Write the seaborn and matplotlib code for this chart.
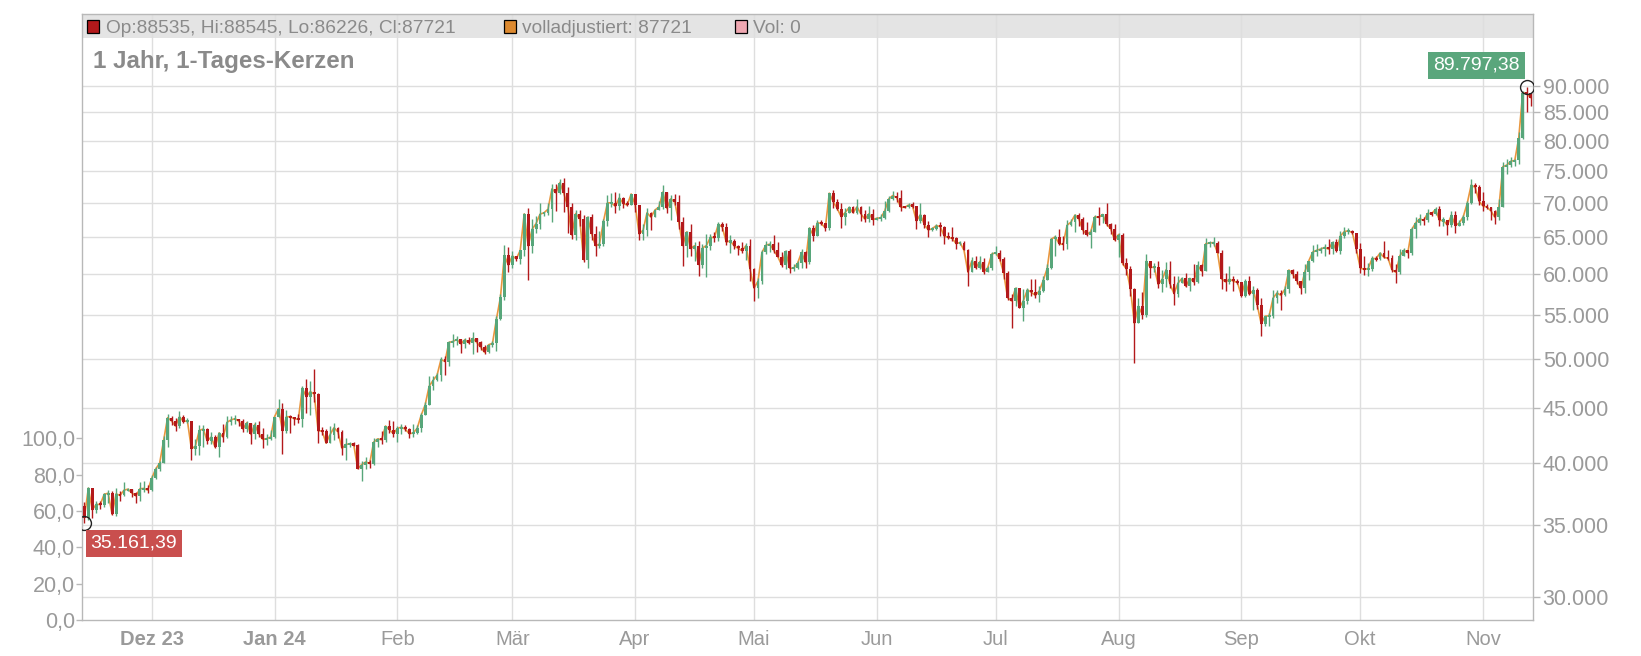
import numpy as np
import pandas as pd
import matplotlib
matplotlib.use("Agg")
import matplotlib.pyplot as plt
import matplotlib.dates as mdates
from matplotlib.patches import Rectangle
from matplotlib.ticker import NullLocator
import seaborn as sns

# ---------------- data (prices in thousand USD) ----------------
start_date = "2023-11-14"
first_open_k = 36.49

close_k = [
    # Nov 23 (14-30)
    35.55, 37.88, 36.16, 36.59, 36.57, 37.39, 37.47, 35.81, 37.42, 37.29, 37.72, 37.80, 37.48, 37.25, 37.83, 37.86, 37.72,
    # Dec 23
    38.69, 39.48, 39.98, 41.98, 44.08, 43.77, 43.29, 44.17, 43.72, 43.79, 41.24, 41.45, 42.89, 43.02, 41.94, 42.28,
    41.37, 42.66, 42.27, 43.65, 43.87, 43.99, 43.74, 43.02, 43.61, 42.52, 43.44, 42.58, 42.07, 42.14, 42.28,
    # Jan 24
    44.18, 44.94, 42.85, 44.18, 44.16, 43.97, 43.93, 46.97, 46.11, 46.63, 46.37, 42.85, 42.84, 41.73, 42.51, 43.15,
    42.74, 41.26, 41.62, 41.67, 41.55, 39.51, 39.85, 40.08, 39.94, 41.82, 42.12, 42.03, 43.30, 42.94, 42.58,
    # Feb 24
    43.08, 43.19, 43.00, 42.58, 42.66, 43.09, 44.32, 45.30, 47.15, 47.77, 48.29, 49.96, 49.74, 51.83, 51.94, 52.16,
    51.66, 52.12, 51.78, 52.28, 51.84, 51.30, 50.73, 51.57, 51.73, 54.52, 57.09, 62.50, 61.20,
    # Mar 24
    62.44, 62.03, 63.17, 68.33, 63.80, 66.11, 66.93, 68.30, 68.50, 69.02, 72.12, 71.48, 73.10, 71.40, 69.40, 65.30,
    68.39, 67.61, 61.93, 67.85, 65.50, 63.80, 64.04, 67.23, 69.96, 69.99, 69.46, 70.74, 69.87, 69.65, 71.33,
    # Apr 24
    69.70, 65.45, 65.98, 68.50, 67.84, 68.90, 69.36, 71.62, 69.14, 70.59, 70.06, 67.20, 63.82, 65.74, 63.42, 63.81,
    61.28, 63.51, 63.84, 64.99, 64.93, 66.84, 66.41, 64.29, 64.50, 63.77, 63.46, 63.12, 63.84, 60.64,
    # May 24
    58.25, 59.12, 62.89, 63.89, 64.03, 63.16, 62.33, 61.19, 63.05, 60.79, 60.80, 61.45, 62.90, 61.55, 66.27, 65.23,
    67.05, 66.94, 66.28, 71.45, 70.14, 69.12, 67.93, 68.53, 69.28, 68.51, 69.39, 68.30, 67.56, 68.35, 67.49,
    # Jun 24
    67.71, 67.75, 68.80, 70.56, 71.08, 70.76, 69.34, 69.30, 69.65, 69.51, 67.31, 68.24, 66.75, 66.01, 66.19, 66.64,
    66.49, 65.14, 64.96, 64.83, 64.10, 64.25, 63.18, 60.28, 61.80, 60.86, 61.67, 60.32, 60.89, 62.68,
    # Jul 24
    62.85, 62.03, 60.20, 57.06, 56.66, 58.23, 55.86, 56.71, 58.05, 57.72, 57.34, 57.90, 59.23, 60.80, 64.72, 65.04,
    64.09, 63.99, 66.68, 67.14, 68.17, 67.56, 65.95, 65.37, 65.78, 67.91, 67.81, 68.26, 66.82, 66.19, 64.62,
    # Aug 24
    65.36, 61.42, 60.68, 58.12, 53.99, 56.03, 55.03, 61.71, 60.88, 60.95, 58.72, 59.34, 60.60, 58.74, 57.56, 58.88,
    59.48, 58.48, 59.49, 59.01, 61.16, 60.38, 64.09, 64.18, 64.25, 62.83, 59.42, 59.03, 59.38, 59.12, 58.97,
    # Sep 24
    57.33, 59.11, 57.48, 57.97, 56.16, 53.95, 54.84, 54.88, 57.02, 57.65, 57.34, 58.13, 60.57, 60.01, 59.18, 58.21,
    60.31, 61.76, 62.95, 63.19, 63.35, 63.58, 63.34, 64.26, 63.14, 65.18, 65.79, 65.89, 65.63, 63.33,
    # Oct 24
    60.84, 60.63, 60.75, 62.09, 62.06, 62.82, 62.22, 62.13, 60.58, 60.27, 62.45, 63.19, 62.85, 66.08, 67.04, 67.62,
    67.37, 68.41, 68.36, 69.00, 67.37, 67.37, 66.68, 68.16, 66.64, 67.01, 67.93, 69.91, 72.72, 72.34, 70.22,
    # Nov 24 (1-13)
    69.48, 69.35, 68.74, 67.81, 69.36, 75.64, 75.90, 76.54, 76.65, 80.47, 88.70, 88.535, 87.721,
]

high_k = [
    36.75, 37.98, 37.93, 36.85, 36.85, 37.52, 37.76, 37.65, 37.86, 37.62, 38.42, 37.89, 37.82, 37.58, 38.39, 38.43, 38.16,
    38.95, 39.68, 40.19, 42.41, 44.41, 44.26, 44.03, 44.70, 44.36, 44.04, 43.80, 42.08, 43.43, 43.41, 43.09, 42.70,
    42.43, 42.75, 43.47, 44.28, 44.24, 44.37, 44.00, 43.94, 43.80, 43.60, 43.68, 43.79, 43.12, 42.60, 42.89,
    44.19, 45.89, 45.50, 44.77, 44.34, 44.19, 44.48, 47.20, 47.89, 47.65, 48.97, 46.50, 43.24, 43.05, 43.34, 43.55,
    43.18, 42.93, 42.18, 41.83, 41.83, 41.66, 40.14, 40.53, 40.27, 42.21, 42.20, 42.84, 43.31, 43.88, 43.74,
    43.29, 43.49, 43.38, 43.12, 43.50, 43.38, 44.53, 45.60, 48.17, 48.17, 48.58, 50.28, 50.37, 52.04, 52.82, 52.57,
    52.16, 52.37, 52.49, 52.99, 52.37, 52.00, 51.50, 51.68, 51.94, 54.91, 57.56, 63.91, 63.68,
    63.10, 62.46, 63.23, 68.47, 69.17, 67.64, 67.97, 69.90, 68.67, 70.01, 72.85, 72.93, 73.65, 73.78, 72.38, 70.00,
    68.88, 68.93, 68.11, 68.03, 68.25, 66.62, 65.90, 67.56, 71.15, 71.53, 71.66, 71.49, 70.89, 70.33, 71.35,
    71.22, 69.67, 66.87, 69.26, 68.67, 69.00, 70.23, 72.71, 71.69, 71.13, 71.26, 71.17, 67.86, 65.82, 66.84, 64.32,
    64.46, 64.07, 65.45, 65.40, 65.67, 67.18, 67.18, 67.04, 65.27, 64.77, 63.89, 64.33, 64.21, 64.69,
    60.82, 59.55, 63.27, 64.46, 64.51, 65.30, 64.39, 62.98, 63.24, 63.38, 61.41, 61.78, 63.39, 63.09, 66.40, 66.70,
    67.39, 67.43, 67.00, 71.52, 71.89, 70.62, 70.02, 69.20, 69.48, 69.51, 70.61, 69.52, 68.85, 69.48, 69.00,
    67.84, 68.39, 70.24, 71.06, 71.74, 71.59, 71.95, 69.53, 69.99, 70.11, 69.55, 69.95, 68.38, 67.23, 66.43, 66.92,
    67.16, 66.52, 65.70, 66.47, 65.03, 64.52, 64.50, 63.36, 62.29, 62.45, 62.36, 62.17, 61.12, 62.89,
    63.82, 63.26, 62.26, 60.47, 57.48, 58.45, 58.32, 58.17, 58.25, 59.43, 59.42, 58.52, 59.84, 61.37, 64.88, 65.34,
    66.08, 65.12, 67.38, 67.57, 68.35, 68.48, 67.81, 67.10, 66.13, 68.22, 69.40, 68.31, 70.00, 66.99, 66.80,
    65.63, 65.59, 62.15, 61.12, 58.29, 57.03, 57.73, 62.75, 61.74, 61.45, 61.76, 60.62, 61.59, 61.75, 59.82, 59.82,
    59.68, 60.23, 59.59, 61.40, 61.78, 61.38, 64.86, 64.48, 64.96, 64.44, 63.20, 60.23, 61.15, 59.82, 59.45,
    59.05, 59.40, 59.80, 58.50, 58.30, 56.98, 54.85, 55.26, 58.04, 58.03, 57.97, 58.53, 60.61, 60.65, 60.39, 59.19,
    61.29, 61.79, 63.85, 64.09, 63.58, 64.00, 64.72, 64.47, 64.80, 65.82, 66.48, 66.26, 65.95, 65.60,
    64.13, 62.37, 61.47, 62.46, 62.37, 63.00, 64.46, 63.16, 62.53, 61.30, 63.39, 63.45, 63.27, 66.50, 67.88, 68.39,
    67.89, 68.99, 68.67, 69.36, 69.52, 67.82, 67.44, 68.83, 68.75, 67.43, 68.21, 70.23, 73.62, 72.96, 72.69,
    71.56, 69.87, 69.37, 68.91, 70.57, 76.40, 76.94, 77.25, 76.95, 81.44, 89.00, 89.79738, 88.545,
]

low_k = [
    35.16139, 35.36, 35.52, 35.92, 36.22, 36.38, 36.71, 35.77, 35.67, 36.86, 37.25, 37.62, 37.17, 36.73, 36.88, 37.60, 37.52,
    37.63, 38.66, 39.30, 39.97, 41.41, 43.35, 42.88, 43.08, 43.58, 43.59, 40.23, 40.68, 40.66, 41.43, 41.67, 41.70,
    41.27, 40.53, 41.82, 42.21, 43.42, 43.45, 43.30, 42.79, 42.74, 41.65, 42.11, 42.32, 41.30, 41.55, 41.98,
    42.19, 44.18, 40.75, 42.64, 42.63, 43.41, 43.58, 43.21, 44.50, 44.33, 45.62, 41.75, 42.44, 41.72, 41.72, 42.05,
    42.20, 40.68, 40.28, 41.43, 41.44, 39.44, 38.51, 39.47, 39.54, 39.83, 41.39, 41.64, 41.81, 42.68, 42.31,
    41.88, 42.58, 42.88, 42.21, 42.27, 42.59, 42.79, 44.33, 45.26, 46.80, 47.73, 47.71, 48.35, 49.27, 51.32, 51.56,
    50.67, 51.19, 51.68, 50.58, 50.80, 50.95, 50.54, 50.61, 51.30, 50.90, 54.44, 56.72, 60.36,
    60.79, 61.72, 61.33, 62.37, 59.32, 62.85, 65.61, 66.17, 68.03, 68.21, 67.20, 68.79, 71.35, 68.63, 65.63, 64.76,
    64.59, 66.63, 61.56, 60.85, 64.57, 62.35, 63.44, 63.80, 66.60, 69.37, 68.45, 68.87, 69.21, 69.46, 69.60,
    68.66, 64.58, 64.54, 65.13, 65.97, 67.83, 68.91, 69.05, 68.47, 67.47, 69.60, 66.12, 61.04, 62.27, 62.35, 61.80,
    59.77, 60.80, 59.62, 63.16, 64.27, 64.52, 65.82, 63.96, 62.83, 63.37, 62.50, 62.82, 61.84, 59.17,
    56.60, 56.99, 58.82, 62.62, 62.91, 62.88, 62.31, 60.93, 60.74, 60.20, 60.49, 60.63, 60.84, 60.78, 61.35, 64.49,
    65.13, 66.65, 65.91, 66.05, 69.20, 68.90, 66.36, 66.74, 68.55, 68.42, 68.28, 67.30, 67.15, 67.21, 66.70,
    67.40, 67.34, 67.59, 68.60, 70.39, 70.14, 68.82, 69.22, 69.23, 69.27, 66.10, 66.94, 66.31, 65.08, 65.86, 66.02,
    65.13, 64.10, 64.74, 64.53, 63.40, 63.95, 63.18, 58.47, 60.27, 60.71, 60.66, 60.06, 60.30, 60.60,
    62.49, 61.81, 59.45, 56.79, 53.49, 56.02, 55.79, 54.32, 56.33, 57.21, 57.07, 56.57, 57.82, 59.23, 60.69, 62.45,
    63.95, 63.26, 63.32, 66.64, 65.76, 66.58, 65.48, 65.13, 63.47, 65.72, 66.71, 67.08, 66.51, 65.39, 64.53,
    62.30, 61.21, 59.89, 57.28, 49.58, 54.04, 54.56, 54.73, 59.56, 60.26, 58.32, 57.72, 58.45, 58.32, 56.16, 57.11,
    58.84, 58.44, 57.87, 58.58, 58.89, 59.82, 60.38, 63.60, 63.79, 62.80, 58.11, 57.86, 58.79, 57.86, 58.76,
    57.13, 57.13, 57.42, 55.61, 55.69, 52.55, 53.74, 53.64, 54.59, 56.40, 55.55, 57.31, 57.63, 59.55, 58.72, 57.49,
    57.64, 59.24, 61.61, 62.37, 62.76, 62.38, 62.71, 62.69, 62.97, 62.68, 64.83, 65.43, 65.40, 62.85,
    60.20, 59.93, 59.85, 60.49, 61.70, 61.93, 62.12, 61.86, 60.34, 58.92, 60.10, 62.43, 62.10, 62.51, 64.82, 66.73,
    66.68, 67.17, 68.09, 68.11, 66.62, 66.59, 65.26, 66.45, 65.52, 66.52, 66.79, 67.50, 69.73, 71.44, 69.68,
    68.82, 69.05, 67.49, 66.83, 67.46, 69.32, 74.45, 75.62, 75.78, 76.11, 80.25, 85.10, 86.226,
]

month_ticks = ["2023-12-01", "2024-01-01", "2024-02-01", "2024-03-01", "2024-04-01", "2024-05-01",
               "2024-06-01", "2024-07-01", "2024-08-01", "2024-09-01", "2024-10-01", "2024-11-01"]
month_labels = ["Dez 23", "Jan 24", "Feb", "Mär", "Apr", "Mai", "Jun", "Jul", "Aug", "Sep", "Okt", "Nov"]
bold_labels = ["Dez 23", "Jan 24"]
price_ticks = [30000, 35000, 40000, 45000, 50000, 55000, 60000, 65000, 70000, 75000, 80000, 85000, 90000]
vol_ticks = [0, 20, 40, 60, 80, 100]
header_ohlc = "Op:88535, Hi:88545, Lo:86226, Cl:87721"
header_adj = "volladjustiert: 87721"
header_vol = "Vol: 0"
chart_title = "1 Jahr, 1-Tages-Kerzen"

# ---------------- style ----------------
sns.set_style("white")
plt.rcParams["font.family"] = ["Liberation Sans", "DejaVu Sans"]

UP = "#57a67a"
DOWN = "#b3191b"
LINE = "#e8963e"
GRID = "#dedede"
SPINE = "#b8b8b8"
TXT = "#9a9a9a"
HDR = "#8a8a8a"


def de(v, d):
    s = f"{v:,.{d}f}"
    return s.replace(",", "X").replace(".", ",").replace("X", ".")


W, H = 1641, 656
fig = plt.figure(figsize=(W / 100, H / 100), dpi=100)
L, R, T, B = 82, 1533, 14, 620
ax = fig.add_axes([L / W, 1 - B / H, (R - L) / W, (B - T) / H])
vax = ax.twinx()

n = len(close_k)
assert len(high_k) == n and len(low_k) == n, (n, len(high_k), len(low_k))
dates = pd.date_range(start_date, periods=n, freq="D")
x = mdates.date2num(dates)
close = np.array(close_k) * 1000
high = np.array(high_k) * 1000
low = np.array(low_k) * 1000
opn = np.concatenate([[first_open_k * 1000], close[:-1]])
high = np.maximum(high, np.maximum(opn, close))
low = np.minimum(low, np.minimum(opn, close))
up = close >= opn
cols = np.where(up, UP, DOWN)

# bodies with a minimal visible height (log space)
lo_b = np.minimum(opn, close)
hi_b = np.maximum(opn, close)
gm = np.sqrt(lo_b * hi_b)
thin = np.log(hi_b / lo_b) < 0.0045
lo_b = np.where(thin, gm * np.exp(-0.00225), lo_b)
hi_b = np.where(thin, gm * np.exp(0.00225), hi_b)

ax.set_yscale("log")
sns.lineplot(x=x, y=close, ax=ax, color=LINE, lw=1.2, zorder=2, legend=False)
ax.vlines(x, low, high, colors=cols, lw=1.0, zorder=3)
ax.bar(x, hi_b - lo_b, bottom=lo_b, width=0.72, color=cols, lw=0, zorder=4)

ymin = 30000 * np.exp(-(620 - 596.6) / 464.9)
ymax = 30000 * np.exp((596.6 - 14) / 464.9)
ax.set_ylim(ymin, ymax)
ax.set_xlim(x[0] - 0.6, x[-1] + 0.6)

# price axis on the right
ax.yaxis.tick_right()
ax.yaxis.set_label_position("right")
ax.set_yticks(price_ticks)
ax.set_yticklabels([de(v, 0) for v in price_ticks])
ax.yaxis.set_minor_locator(NullLocator())
ax.tick_params(axis="y", which="major", direction="out", length=5, width=1, color=SPINE,
               labelsize=15.5, labelcolor=TXT, pad=2, left=False, right=True)

# x axis
ax.set_xticks(mdates.date2num(pd.to_datetime(month_ticks)))
ax.set_xticklabels(month_labels)
ax.xaxis.set_minor_locator(NullLocator())
ax.tick_params(axis="x", direction="out", length=5, width=1, color=SPINE,
               labelsize=14.5, labelcolor=TXT, pad=2)
for lab in ax.get_xticklabels():
    if lab.get_text() in bold_labels:
        lab.set_fontweight("bold")
ax.set_xlabel("")
ax.set_ylabel("")

ax.grid(True, color=GRID, lw=1)
ax.set_axisbelow(True)
for s in ax.spines.values():
    s.set_visible(True)
    s.set_color(SPINE)
    s.set_linewidth(1)

# header band inside plot
band_frac = (B - 37.7) / (B - T)
ax.add_patch(Rectangle((0, band_frac), 1, 1 - band_frac, transform=ax.transAxes,
                       fc="#e4e4e4", ec="none", zorder=0.3))

# volume axis on the left
vax.set_ylim(0, (B - T) / 1.817)
vax.yaxis.tick_left()
vax.yaxis.set_label_position("left")
vax.set_yticks(vol_ticks)
vax.set_yticklabels([de(v, 1) for v in vol_ticks])
vax.yaxis.set_minor_locator(NullLocator())
vax.tick_params(axis="y", direction="out", length=4, width=1, color=SPINE,
                labelsize=15.5, labelcolor=TXT, pad=1, left=True, right=False)
vax.grid(False)
for s in vax.spines.values():
    s.set_visible(False)

# extreme markers and labels
imax = int(np.argmax(high))
imin = int(np.argmin(low))
ax.plot([x[imax]], [high[imax]], "o", mfc="none", mec="#222222", ms=10, mew=1, zorder=7)
ax.plot([x[imin]], [low[imin]], "o", mfc="none", mec="#222222", ms=10, mew=1, zorder=7)
ax.annotate(de(high[imax], 2), xy=(x[imax], high[imax]), xytext=(-7, 13),
            textcoords="offset pixels", ha="right", va="bottom", fontsize=14, color="white",
            bbox=dict(boxstyle="square,pad=0.25", fc="#5aa67c", ec="none"), zorder=8,
            annotation_clip=False)
ax.annotate(de(low[imin], 2), xy=(x[imin], low[imin]), xytext=(6, -12),
            textcoords="offset pixels", ha="left", va="top", fontsize=14, color="white",
            bbox=dict(boxstyle="square,pad=0.25", fc="#c94f4e", ec="none"), zorder=8,
            annotation_clip=False)

# header legend
def fx(px):
    return px / W


def fy(py):
    return 1 - py / H


for (sx, fc) in [(87, "#b3191b"), (504, "#dd8a30"), (735, "#f0a8b2")]:
    fig.add_artist(Rectangle((fx(sx), fy(33)), 12 / W, 13 / H, transform=fig.transFigure,
                             fc=fc, ec="black", lw=0.9, zorder=5))
fig.text(fx(106), fy(28.5), header_ohlc, fontsize=13.8, color=HDR, ha="left", va="center")
fig.text(fx(522), fy(28.5), header_adj, fontsize=13.8, color=HDR, ha="left", va="center")
fig.text(fx(753), fy(28.5), header_vol, fontsize=13.8, color=HDR, ha="left", va="center")
fig.text(fx(93), fy(61.5), chart_title, fontsize=17.4, fontweight="bold", color=HDR, ha="left", va="center")

fig.savefig("out.png", dpi=100)
